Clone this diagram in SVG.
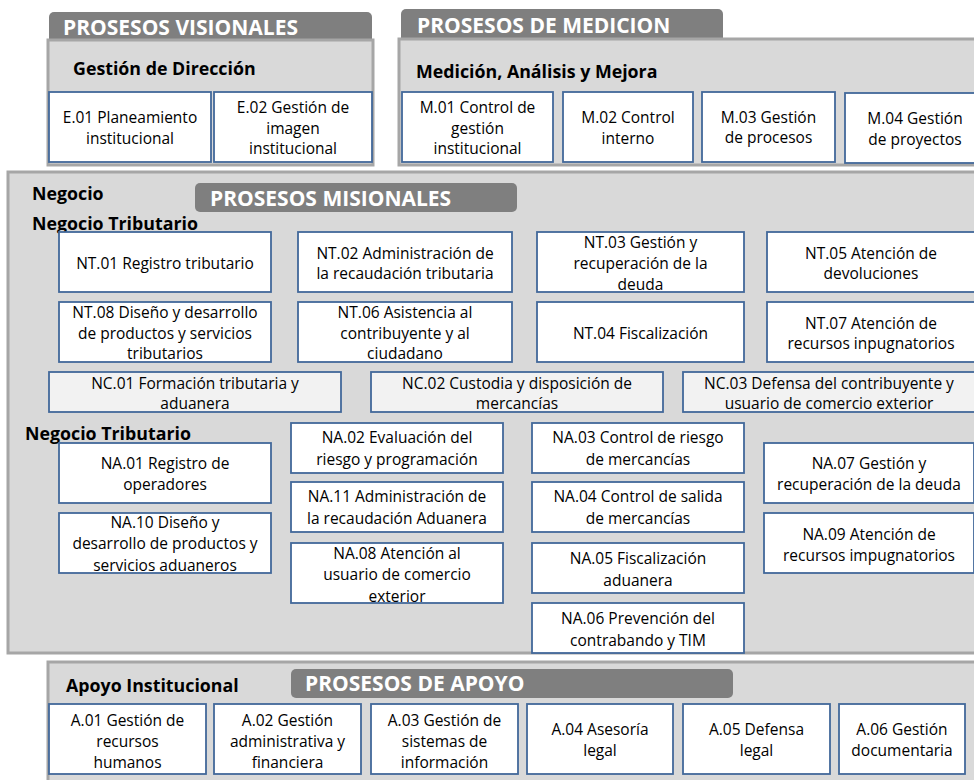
<svg xmlns="http://www.w3.org/2000/svg" width="974" height="780" viewBox="0 0 974 780">
<style>
.bg{fill:#ffffff}
.panel{fill:#d9d9d9;stroke:#a6a6a6;stroke-width:3}
.hdr{fill:#7f7f7f}
.hdrt{font-family:"Open Sans","Liberation Sans",sans-serif;font-weight:bold;font-size:21px;fill:#ffffff}
.lbl{font-family:"Open Sans","Liberation Sans",sans-serif;font-weight:bold;font-size:17.8px;fill:#000000}
.box{fill:#ffffff;stroke:#42689a;stroke-width:1.8}
.nc{fill:#f2f2f2;stroke:#42689a;stroke-width:1.8}
.t{font-family:"Open Sans","Liberation Sans",sans-serif;font-size:15.5px;fill:#000000;text-anchor:middle}
</style>
<rect class="bg" x="0" y="0" width="974" height="780"/>

<g id="visionales">
  <rect class="hdr" x="49" y="12" width="323" height="32" rx="5"/>
  <rect class="panel" x="48" y="40" width="325" height="125"/>
  <text class="hdrt" x="63" y="34.5">PROSESOS VISIONALES</text>
  <text class="lbl" x="73" y="74.5">Gestión de Dirección</text>
</g>
<g id="E01"><rect class="box" x="49" y="92" width="162" height="70"/><text class="t" x="130" y="122.5">E.01 Planeamiento</text><text class="t" x="130" y="143.5">institucional</text></g>
<g id="E02"><rect class="box" x="214" y="92" width="158" height="70"/><text class="t" x="293" y="112.5">E.02 Gestión de</text><text class="t" x="293" y="133.5">imagen</text><text class="t" x="293" y="153.5">institucional</text></g>

<g id="medicion">
  <rect class="hdr" x="401" y="9" width="322" height="34" rx="5"/>
  <rect class="panel" x="399" y="39" width="590" height="126"/>
  <text class="hdrt" x="417" y="32.5">PROSESOS DE MEDICION</text>
  <text class="lbl" x="416" y="77.5">Medición, Análisis y Mejora</text>
</g>
<g id="M01"><rect class="box" x="402" y="92" width="151" height="70"/><text class="t" x="477.5" y="112.5">M.01 Control de</text><text class="t" x="477.5" y="133.5">gestión</text><text class="t" x="477.5" y="153.5">institucional</text></g>
<g id="M02"><rect class="box" x="563" y="92" width="130" height="70"/><text class="t" x="628" y="122.5">M.02 Control</text><text class="t" x="628" y="143.5">interno</text></g>
<g id="M03"><rect class="box" x="702" y="92" width="133" height="70"/><text class="t" x="768.5" y="122.5">M.03 Gestión</text><text class="t" x="768.5" y="142.5">de procesos</text></g>
<g id="M04"><rect class="box" x="845" y="93" width="140" height="70"/><text class="t" x="915" y="123.5">M.04 Gestión</text><text class="t" x="915" y="144.5">de proyectos</text></g>

<g id="misionales">
  <rect class="panel" x="8" y="172" width="980" height="481"/>
  <rect class="hdr" x="195" y="183" width="322" height="29" rx="5"/>
  <text class="hdrt" x="210" y="205.5">PROSESOS MISIONALES</text>
  <text class="lbl" x="32" y="199.5">Negocio</text>
  <text class="lbl" x="32" y="229.5">Negocio Tributario</text>
  <text class="lbl" x="25" y="439.5">Negocio Tributario</text>
</g>
<g id="NT01"><rect class="box" x="59" y="232" width="212" height="60"/><text class="t" x="165" y="268.5">NT.01 Registro tributario</text></g>
<g id="NT02"><rect class="box" x="298" y="232" width="214" height="60"/><text class="t" x="405" y="258.5">NT.02 Administración de</text><text class="t" x="405" y="278.5">la recaudación tributaria</text></g>
<g id="NT03"><rect class="box" x="537" y="232" width="207" height="60"/><text class="t" x="640.5" y="247.5">NT.03 Gestión y</text><text class="t" x="640.5" y="268.5">recuperación de la</text><text class="t" x="640.5" y="289.5">deuda</text></g>
<g id="NT05"><rect class="box" x="767" y="232" width="208" height="60"/><text class="t" x="871" y="258.5">NT.05 Atención de</text><text class="t" x="871" y="278.5">devoluciones</text></g>
<g id="NT08"><rect class="box" x="59" y="302" width="212" height="60"/><text class="t" x="165" y="317.5">NT.08 Diseño y desarrollo</text><text class="t" x="165" y="338.5">de productos y servicios</text><text class="t" x="165" y="358.5">tributarios</text></g>
<g id="NT06"><rect class="box" x="298" y="302" width="214" height="60"/><text class="t" x="405" y="317.5">NT.06 Asistencia al</text><text class="t" x="405" y="338.5">contribuyente y al</text><text class="t" x="405" y="358.5">ciudadano</text></g>
<g id="NT04"><rect class="box" x="537" y="302" width="207" height="60"/><text class="t" x="640.5" y="338.5">NT.04 Fiscalización</text></g>
<g id="NT07"><rect class="box" x="767" y="302" width="208" height="60"/><text class="t" x="871" y="328.5">NT.07 Atención de</text><text class="t" x="871" y="348.5">recursos inpugnatorios</text></g>
<g id="NC01"><rect class="nc" x="49" y="372" width="292" height="40"/><text class="t" x="195" y="388.5">NC.01 Formación tributaria y</text><text class="t" x="195" y="408.5">aduanera</text></g>
<g id="NC02"><rect class="nc" x="371" y="372" width="292" height="40"/><text class="t" x="517" y="388.5">NC.02 Custodia y disposición de</text><text class="t" x="517" y="408.5">mercancías</text></g>
<g id="NC03"><rect class="nc" x="683" y="372" width="292" height="40"/><text class="t" x="829" y="388.5">NC.03 Defensa del contribuyente y</text><text class="t" x="829" y="408.5">usuario de comercio exterior</text></g>
<g id="NA01"><rect class="box" x="59" y="443" width="212" height="60"/><text class="t" x="165" y="468.5">NA.01 Registro de</text><text class="t" x="165" y="489.5">operadores</text></g>
<g id="NA10"><rect class="box" x="59" y="513" width="212" height="60"/><text class="t" x="165" y="527.5">NA.10 Diseño y</text><text class="t" x="165" y="548.5">desarrollo de productos y</text><text class="t" x="165" y="570.5">servicios aduaneros</text></g>
<g id="NA02"><rect class="box" x="291" y="423" width="212" height="50"/><text class="t" x="397" y="442.5">NA.02 Evaluación del</text><text class="t" x="397" y="464.5">riesgo y programación</text></g>
<g id="NA11"><rect class="box" x="291" y="482" width="212" height="50"/><text class="t" x="397" y="501.5">NA.11 Administración de</text><text class="t" x="397" y="523.5">la recaudación Aduanera</text></g>
<g id="NA08"><rect class="box" x="291" y="543" width="212" height="60"/><text class="t" x="397" y="558.5">NA.08 Atención al</text><text class="t" x="397" y="579.5">usuario de comercio</text><text class="t" x="397" y="601.5">exterior</text></g>
<g id="NA03"><rect class="box" x="532" y="423" width="212" height="50"/><text class="t" x="638" y="442.5">NA.03 Control de riesgo</text><text class="t" x="638" y="464.5">de mercancías</text></g>
<g id="NA04"><rect class="box" x="532" y="482" width="212" height="50"/><text class="t" x="638" y="501.5">NA.04 Control de salida</text><text class="t" x="638" y="523.5">de mercancías</text></g>
<g id="NA05"><rect class="box" x="532" y="543" width="212" height="50"/><text class="t" x="638" y="563.5">NA.05 Fiscalización</text><text class="t" x="638" y="585.5">aduanera</text></g>
<g id="NA06"><rect class="box" x="532" y="603" width="212" height="50"/><text class="t" x="638" y="623.5">NA.06 Prevención del</text><text class="t" x="638" y="645.5">contrabando y TIM</text></g>
<g id="NA07"><rect class="box" x="764" y="443" width="210" height="60"/><text class="t" x="869" y="468.5">NA.07 Gestión y</text><text class="t" x="869" y="489.5">recuperación de la deuda</text></g>
<g id="NA09"><rect class="box" x="764" y="513" width="210" height="60"/><text class="t" x="869" y="539.5">NA.09 Atención de</text><text class="t" x="869" y="560.5">recursos impugnatorios</text></g>

<g id="apoyo">
  <rect class="panel" x="48" y="662" width="940" height="130"/>
  <rect class="hdr" x="291" y="669" width="442" height="29" rx="5"/>
  <text class="hdrt" x="305" y="690.5">PROSESOS DE APOYO</text>
  <text class="lbl" x="66" y="691.5">Apoyo Institucional</text>
</g>
<g id="A01"><rect class="box" x="49" y="704" width="157" height="70"/><text class="t" x="127.5" y="725.5">A.01 Gestión de</text><text class="t" x="127.5" y="746.5">recursos</text><text class="t" x="127.5" y="767.5">humanos</text></g>
<g id="A02"><rect class="box" x="214" y="704" width="147" height="70"/><text class="t" x="287.5" y="725.5">A.02 Gestión</text><text class="t" x="287.5" y="746.5">administrativa y</text><text class="t" x="287.5" y="767.5">financiera</text></g>
<g id="A03"><rect class="box" x="371" y="704" width="147" height="70"/><text class="t" x="444.5" y="725.5">A.03 Gestión de</text><text class="t" x="444.5" y="746.5">sistemas de</text><text class="t" x="444.5" y="767.5">información</text></g>
<g id="A04"><rect class="box" x="527" y="704" width="146" height="70"/><text class="t" x="600" y="734.5">A.04 Asesoría</text><text class="t" x="600" y="755.5">legal</text></g>
<g id="A05"><rect class="box" x="683" y="704" width="147" height="70"/><text class="t" x="756.5" y="734.5">A.05 Defensa</text><text class="t" x="756.5" y="755.5">legal</text></g>
<g id="A06"><rect class="box" x="839" y="704" width="126" height="70"/><text class="t" x="902" y="734.5">A.06 Gestión</text><text class="t" x="902" y="755.5">documentaria</text></g>

<g id="connectors"></g>
</svg>
